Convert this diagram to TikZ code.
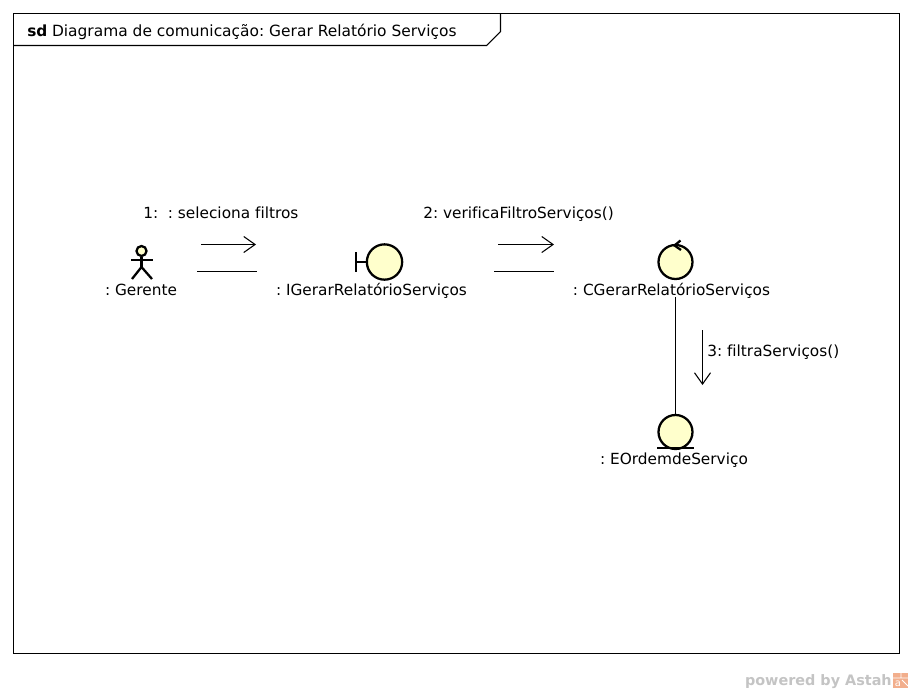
\documentclass[tikz,border=0pt]{standalone}
\usepackage{fontspec}
\setmainfont[Ligatures=NoCommon]{DejaVu Sans}
\usetikzlibrary{arrows.meta}
\definecolor{iconfill}{HTML}{FFFFCC}
\definecolor{wmgrey}{HTML}{C4C4C4}
\definecolor{wmorange}{HTML}{F2AE8C}
\tikzset{
  x=0.75pt,y=-0.75pt,
  frameline/.style={draw=black,line width=0.8pt},
  lbl/.style={inner sep=0pt,font=\fontsize{11.5pt}{13pt}\selectfont\frenchspacing,text=black,anchor=base},
  msg/.style={inner sep=0pt,font=\fontsize{11.5pt}{13pt}\selectfont\frenchspacing,text=black,anchor=base west},
  icon/.style={circle,draw=black,fill=iconfill,line width=1.7pt,inner sep=0pt,minimum size=25.5pt},
  iconline/.style={draw=black,line width=1.7pt},
  link/.style={draw=black,line width=0.85pt},
  flow/.style={draw=black,line width=0.8pt,-{Straight Barb[length=8.5pt,width=12pt,line width=0.8pt]}}
}
\begin{document}
\begin{tikzpicture}
\useasboundingbox (0,0) rectangle (913,693);
\fill[white] (0,0) rectangle (913,693);
% frame
\draw[frameline] (13.5,13.5) rectangle (899.5,653.5);
\draw[frameline] (13.5,45.5) -- (486.5,45.5) -- (500.5,31.5) -- (500.5,13.5);
\node[msg] (title) at (27,36) {\textbf{sd}\hspace{3.5pt}\fontsize{11.58pt}{13pt}\selectfont Diagrama de comunicação: Gerar Relatório Serviços};
% actor
\node[circle,draw=black,fill=iconfill,line width=1.7pt,inner sep=0pt,minimum size=7.5pt] (head) at (141.5,251) {};
\draw[iconline] (head.south) -- (141.5,267) coordinate (hip);
\draw[iconline] (131,260) -- (152.5,260);
\draw[iconline] (132,279) -- (hip) -- (152,279);
\node[lbl] (gerente) at (141,295) {: Gerente};
% boundary
\node[icon,minimum size=26.5pt] (bnd) at (384.5,262) {};
\draw[iconline] (bnd.west) -- (356,262);
\draw[iconline] (356,252) -- (356,272);
\node[lbl] (bndl) at (371.5,295) {: IGerarRelatórioServiços};
% control
\node[icon] (ctl) at (675.5,262) {};
\draw[iconline] (680.5,240.5) -- (674.5,245.5) -- (681,250);
\node[lbl] (ctll) at (671.5,295) {: CGerarRelatórioServiços};
% entity
\node[icon] (ent) at (675.5,432) {};
\draw[iconline] (657,448) -- (694,448);
\node[lbl] (entl) at (674,464) {: EOrdemdeServiço};
% links
\coordinate (l1a) at (197,271.5); \coordinate (l1b) at (257,271.5);
\coordinate (l2a) at (494,271.5); \coordinate (l2b) at (554,271.5);
\coordinate (l3a) at (675.5,297);
\draw[link] (l1a) -- (l1b);
\draw[link] (l2a) -- (l2b);
\draw[link] (l3a) -- (ent.north);
% messages
\coordinate (m1a) at (201,244.5); \coordinate (m1b) at (256,244.5);
\coordinate (m2a) at (498,244.5); \coordinate (m2b) at (554,244.5);
\coordinate (m3a) at (702.5,330); \coordinate (m3b) at (702.5,385);
\draw[flow] (m1a) -- (m1b);
\draw[flow] (m2a) -- (m2b);
\draw[flow] (m3a) -- (m3b);
\node[msg] (m1) at (143,218) {1:\hspace{7.3pt}: seleciona filtros};
\node[msg] (m2) at (423,218) {2: verificaFiltroServiços()};
\node[msg] (m3) at (707,356) {3: filtraServiços()};
% watermark
\node[inner sep=0pt,anchor=base east,font=\fontsize{10.8pt}{12pt}\selectfont\bfseries,text=wmgrey] (wm) at (892,685) {powered by Astah};
\fill[wmorange] (893,673) rectangle (908,688);
\draw[white,line width=0.6pt] (893,678) -- (908,678) (901,673) -- (901,678) (902,680) -- (908,686);
\node[inner sep=0pt,font=\fontsize{7.5pt}{8pt}\selectfont,text=white] (wmlogo) at (898,683.5) {a};
\end{tikzpicture}
\end{document}
